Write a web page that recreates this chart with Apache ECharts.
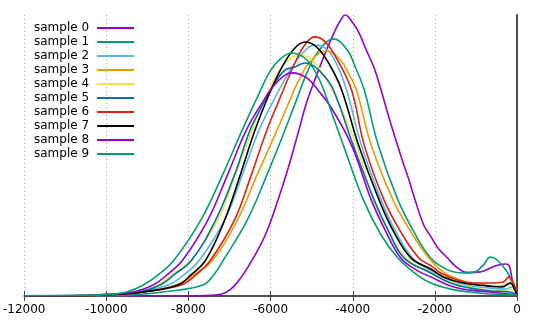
<!DOCTYPE html>
<html>
<head>
<meta charset="utf-8">
<script src="https://cdn.jsdelivr.net/npm/echarts@6/dist/echarts.min.js"></script>
<style>
  html, body { margin: 0; padding: 0; background: #fff; }
  #chart { width: 540px; height: 324px; }
</style>
</head>
<body>
<div id="chart"></div>
<script>
// tick labels on the x axis
const xTicks = [-12000, -10000, -8000, -6000, -4000, -2000, 0];

const sampleNames = ['sample 0', 'sample 1', 'sample 2', 'sample 3', 'sample 4',
  'sample 5', 'sample 6', 'sample 7', 'sample 8', 'sample 9'];

// gnuplot default line colours
const sampleColors = ['#9400d3', '#009e73', '#56b4e9', '#e69f00', '#f0e442',
  '#0072b2', '#e51e10', '#000000', '#9400d3', '#009e73'];

// density curves as [x, relative height]
const sample0 = [[-12000, 0], [-7900, 0], [-7290, 0.004], [-7000, 0.021], [-6710, 0.068], [-6450, 0.128],
  [-6130, 0.217], [-5820, 0.342], [-5550, 0.466], [-5310, 0.591], [-5120, 0.690], [-4880, 0.786],
  [-4660, 0.868], [-4470, 0.932], [-4320, 0.976], [-4180, 1.0], [-4030, 0.979], [-3860, 0.940],
  [-3670, 0.875], [-3480, 0.812], [-3310, 0.733], [-3120, 0.636], [-2950, 0.555], [-2780, 0.477],
  [-2630, 0.413], [-2510, 0.355], [-2270, 0.252], [-2100, 0.212], [-1930, 0.172], [-1690, 0.135],
  [-1450, 0.100], [-1210, 0.084], [-890, 0.086], [-580, 0.104], [-290, 0.114], [-190, 0.108],
  [-100, 0.046], [0, 0.007]];

const sample1 = [[-12000, 0], [-9830, 0.001], [-9100, 0.007], [-8620, 0.014], [-7650, 0.039], [-7370, 0.078],
  [-7150, 0.128], [-6570, 0.270], [-6090, 0.431], [-5650, 0.591], [-5390, 0.690], [-5120, 0.792],
  [-4850, 0.868], [-4470, 0.915], [-4130, 0.875], [-3960, 0.822], [-3720, 0.733], [-3380, 0.537],
  [-2900, 0.342], [-2510, 0.228], [-2100, 0.135], [-1690, 0.093], [-1310, 0.082], [-1060, 0.084],
  [-820, 0.110], [-650, 0.139], [-480, 0.128], [-220, 0.082], [-120, 0.046], [0, 0.007]];

const sample2 = [[-12000, 0], [-10430, 0.001], [-9590, 0.007], [-9220, 0.014], [-8500, 0.039], [-8090, 0.078],
  [-7730, 0.128], [-7120, 0.270], [-6690, 0.431], [-6280, 0.591], [-5920, 0.698], [-5550, 0.797],
  [-5240, 0.861], [-4930, 0.893], [-4640, 0.879], [-4370, 0.819], [-4150, 0.733], [-3790, 0.537],
  [-3310, 0.342], [-2950, 0.228], [-2540, 0.135], [-2100, 0.089], [-1740, 0.060], [-1260, 0.039],
  [-650, 0.028], [-290, 0.025], [-120, 0.032], [0, 0.004]];

const sample3 = [[-12000, 0], [-10310, 0.001], [-9590, 0.007], [-9100, 0.014], [-8310, 0.039], [-7850, 0.078],
  [-7410, 0.128], [-6810, 0.270], [-6330, 0.431], [-5840, 0.591], [-5550, 0.690], [-5340, 0.760],
  [-5020, 0.838], [-4640, 0.872], [-4300, 0.840], [-4080, 0.786], [-3910, 0.733], [-3550, 0.537],
  [-3020, 0.342], [-2580, 0.228], [-2150, 0.135], [-1790, 0.085], [-1380, 0.057], [-1140, 0.046],
  [-890, 0.043], [-580, 0.034], [-240, 0.039], [-120, 0.050], [0, 0.004]];

const sample4 = [[-12000, 0], [-10670, 0.001], [-9830, 0.007], [-9220, 0.014], [-8740, 0.039], [-8380, 0.078],
  [-7940, 0.128], [-7290, 0.270], [-6860, 0.431], [-6450, 0.591], [-6210, 0.680], [-6040, 0.733],
  [-5750, 0.811], [-5530, 0.843], [-5310, 0.858], [-5000, 0.840], [-4710, 0.786], [-4440, 0.715],
  [-3910, 0.537], [-3500, 0.342], [-3120, 0.228], [-2700, 0.135], [-2100, 0.085], [-1620, 0.050],
  [-1140, 0.032], [-650, 0.021], [-290, 0.018], [-170, 0.025], [0, 0.004]];

const sample5 = [[-12000, 0], [-10790, 0.001], [-9830, 0.007], [-9220, 0.014], [-8690, 0.039], [-8330, 0.078],
  [-7920, 0.128], [-7340, 0.270], [-6880, 0.431], [-6500, 0.591], [-6250, 0.665], [-6040, 0.722],
  [-5820, 0.776], [-5630, 0.806], [-5410, 0.815], [-5170, 0.829], [-4950, 0.819], [-4710, 0.786],
  [-4470, 0.733], [-3990, 0.537], [-3480, 0.342], [-3120, 0.228], [-2750, 0.135], [-2100, 0.082],
  [-1620, 0.046], [-1140, 0.028], [-650, 0.018], [-170, 0.014], [0, 0.004]];

const sample6 = [[-12000, 0], [-10310, 0.001], [-9590, 0.007], [-9100, 0.014], [-8190, 0.039], [-7800, 0.078],
  [-7460, 0.128], [-6880, 0.270], [-6470, 0.431], [-6090, 0.591], [-5770, 0.705], [-5430, 0.822],
  [-5170, 0.893], [-4930, 0.922], [-4690, 0.907], [-4400, 0.847], [-4030, 0.733], [-3720, 0.537],
  [-3240, 0.342], [-2830, 0.228], [-2390, 0.135], [-2100, 0.108], [-1860, 0.082], [-1450, 0.057],
  [-1060, 0.046], [-650, 0.046], [-340, 0.050], [-190, 0.068], [-50, 0.032], [0, 0.004]];

const sample7 = [[-12000, 0], [-10310, 0.001], [-9590, 0.007], [-9100, 0.014], [-8260, 0.039], [-7940, 0.075],
  [-7580, 0.128], [-7120, 0.270], [-6740, 0.431], [-6380, 0.591], [-6060, 0.710], [-5720, 0.815],
  [-5430, 0.879], [-5170, 0.904], [-4880, 0.886], [-4560, 0.822], [-4270, 0.733], [-3860, 0.537],
  [-3360, 0.342], [-3000, 0.228], [-2580, 0.135], [-2100, 0.096], [-1790, 0.068], [-1310, 0.046],
  [-730, 0.036], [-360, 0.032], [-170, 0.046], [-50, 0.021], [0, 0.004]];

const sample8 = [[-12000, 0.001], [-10790, 0.002], [-9830, 0.007], [-9340, 0.014], [-8860, 0.039], [-8500, 0.078],
  [-8140, 0.128], [-7530, 0.270], [-7050, 0.431], [-6590, 0.591], [-6160, 0.698], [-5840, 0.762],
  [-5480, 0.794], [-5120, 0.776], [-4810, 0.726], [-4520, 0.669], [-4030, 0.537], [-3550, 0.342],
  [-3190, 0.228], [-2830, 0.135], [-2460, 0.093], [-2100, 0.068], [-1620, 0.036], [-1140, 0.021],
  [-650, 0.014], [0, 0.004]];

const sample9 = [[-12000, 0.001], [-11030, 0.002], [-10070, 0.004], [-9510, 0.014], [-9100, 0.039], [-8740, 0.075],
  [-8350, 0.128], [-7700, 0.270], [-7170, 0.431], [-6690, 0.591], [-6300, 0.715], [-6010, 0.800],
  [-5770, 0.843], [-5480, 0.865], [-5120, 0.840], [-4810, 0.769], [-4520, 0.655], [-4230, 0.537],
  [-3740, 0.342], [-3310, 0.217], [-2900, 0.135], [-2460, 0.078], [-2100, 0.046], [-1620, 0.025],
  [-1140, 0.014], [-650, 0.007], [0, 0.004]];

const samples = [sample0, sample1, sample2, sample3, sample4, sample5, sample6, sample7, sample8, sample9];

const borderColor = '#444';
const font = 'DejaVu Sans';

const chart = echarts.init(document.getElementById('chart'), null, { renderer: 'canvas' });

const xMin = xTicks[0];
const xMax = xTicks[xTicks.length - 1];
const xStep = xTicks[1] - xTicks[0];

const option = {
  animation: false,
  textStyle: { fontFamily: font },
  grid: { left: 20, right: 23, top: 15, bottom: 28 },
  legend: {
    data: sampleNames,
    orient: 'vertical',
    left: 34,
    top: 22,
    padding: 0,
    align: 'right',
    itemWidth: 37,
    itemHeight: 12,
    itemGap: 2,
    itemStyle: { opacity: 0 },
    textStyle: { fontFamily: font, fontSize: 12, color: '#000', padding: [0, 3, 0, 0] }
  },
  xAxis: [
    {
      type: 'value',
      position: 'bottom',
      min: xMin,
      max: xMax,
      interval: xStep,
      axisLine: { lineStyle: { color: borderColor, width: 1.5 } },
      axisTick: { inside: true, length: 5, lineStyle: { color: borderColor } },
      axisLabel: {
        color: '#000',
        fontSize: 12,
        fontFamily: font,
        margin: 8,
        showMinLabel: true,
        showMaxLabel: true,
        formatter: v => String(v)
      },
      splitLine: { show: true, lineStyle: { type: [1, 3], color: '#aaa' } }
    },
    {
      type: 'value',
      position: 'top',
      min: xMin,
      max: xMax,
      interval: xStep,
      axisLine: { show: true, lineStyle: { color: borderColor, width: 1.5 } },
      axisTick: { show: true, inside: true, length: 5, lineStyle: { color: borderColor } },
      axisLabel: { show: false },
      splitLine: { show: false }
    }
  ],
  yAxis: [
    {
      type: 'value',
      position: 'left',
      min: 0,
      max: 1,
      axisLine: { show: true, lineStyle: { color: borderColor, width: 1.5 } },
      axisTick: { show: false },
      axisLabel: { show: false },
      splitLine: { show: false }
    },
    {
      type: 'value',
      position: 'right',
      min: 0,
      max: 1,
      axisLine: { show: true, lineStyle: { color: borderColor, width: 1.5 } },
      axisTick: { show: false },
      axisLabel: { show: false },
      splitLine: { show: false }
    }
  ],
  series: samples.map((data, i) => ({
    name: sampleNames[i],
    type: 'line',
    data: data,
    xAxisIndex: 0,
    yAxisIndex: 0,
    symbol: 'none',
    smooth: 0.4,
    itemStyle: { color: sampleColors[i] },
    lineStyle: { color: sampleColors[i], width: 1.6 }
  }))
};

chart.setOption(option);
</script>
</body>
</html>
